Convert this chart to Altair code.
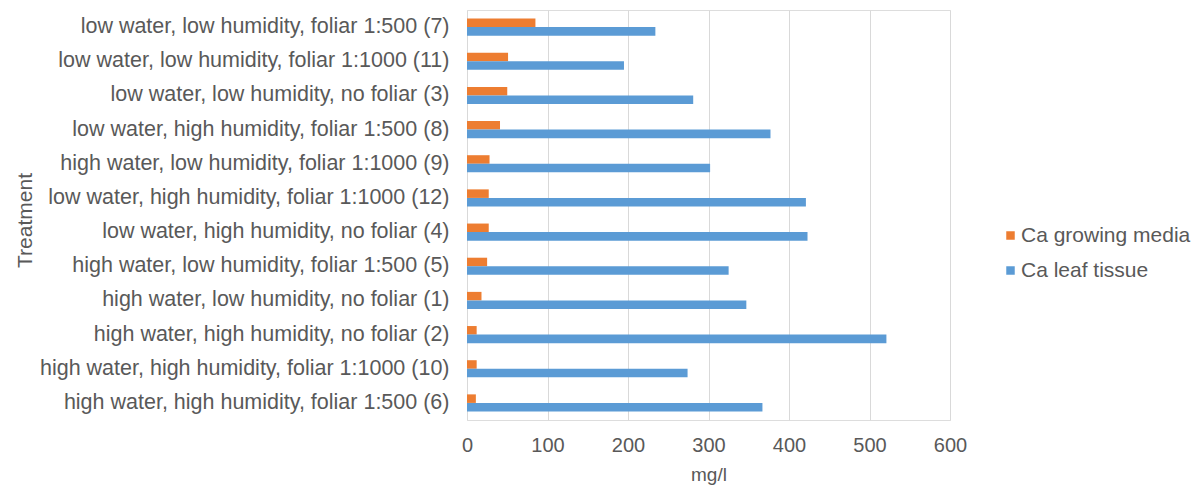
import altair as alt
import pandas as pd

# Treatments, listed top to bottom as they appear on the chart
treatments = [
    "low water, low humidity, foliar 1:500 (7)",
    "low water, low humidity, foliar 1:1000 (11)",
    "low water, low humidity, no foliar (3)",
    "low water, high humidity,  foliar 1:500 (8)",
    "high water, low humidity, foliar 1:1000 (9)",
    "low water, high humidity, foliar 1:1000 (12)",
    "low water, high humidity, no foliar (4)",
    "high water, low humidity, foliar 1:500 (5)",
    "high water, low humidity, no foliar (1)",
    "high water, high humidity, no foliar (2)",
    "high water, high humidity, foliar 1:1000 (10)",
    "high water, high humidity, foliar 1:500 (6)",
]

# Calcium concentrations (mg/l)
ca_growing_media = [85, 51, 50, 41, 28, 27, 27, 25, 18, 12, 12, 11]
ca_leaf_tissue = [234, 195, 281, 377, 302, 421, 423, 325, 347, 521, 274, 367]

series_names = ["Ca growing media", "Ca leaf tissue"]
series_colors = ["#ED7D31", "#5B9BD5"]

rows = []
for t, g, l in zip(treatments, ca_growing_media, ca_leaf_tissue):
    rows.append({"Treatment": t, "Series": series_names[0], "Value": g})
    rows.append({"Treatment": t, "Series": series_names[1], "Value": l})
df = pd.DataFrame(rows)

FONT = "Liberation Sans"
GREY = "#595959"

chart = (
    alt.Chart(df)
    .mark_bar()
    .encode(
        x=alt.X(
            "Value:Q",
            title="mg/l",
            scale=alt.Scale(domain=[0, 600], nice=False),
            axis=alt.Axis(
                values=[0, 100, 200, 300, 400, 500, 600],
                grid=True,
                gridColor="#d9d9d9",
                gridWidth=1,
                domain=False,
                ticks=False,
                labelFlush=False,
                labelFont=FONT,
                labelFontSize=20,
                labelColor=GREY,
                labelPadding=15,
                titleFont=FONT,
                titleFontSize=19,
                titleFontWeight="normal",
                titleColor=GREY,
                titlePadding=10,
            ),
        ),
        y=alt.Y(
            "Treatment:N",
            sort=treatments,
            title="Treatment",
            scale=alt.Scale(paddingInner=0.5, paddingOuter=0.25),
            axis=alt.Axis(
                domain=False,
                ticks=False,
                grid=False,
                labelFont=FONT,
                labelFontSize=21.5,
                labelColor=GREY,
                labelPadding=18,
                labelLimit=600,
                titleFont=FONT,
                titleFontSize=21,
                titleFontWeight="normal",
                titleColor=GREY,
                titleX=-442,
                titleY=210,
                titleAngle=-90,
                titleAlign="center",
                titleBaseline="middle",
            ),
        ),
        yOffset=alt.YOffset("Series:N", sort=series_names),
        color=alt.Color(
            "Series:N",
            sort=series_names,
            scale=alt.Scale(domain=series_names, range=series_colors),
            legend=alt.Legend(
                title=None,
                orient="none",
                legendX=533,
                legendY=215,
                symbolType="square",
                symbolSize=72,
                symbolStrokeWidth=0,
                labelFont=FONT,
                labelFontSize=21,
                labelColor=GREY,
                labelOffset=0,
                labelLimit=400,
                rowPadding=13,
            ),
        ),
    )
    .properties(
        width=483,
        height=410,
        autosize=alt.AutoSizeParams(type="none"),
        padding={"left": 467, "top": 10, "right": 248, "bottom": 70},
    )
    .configure_view(stroke=None)
    .configure(background="white")
)

chart.save("out.html", embed_options={"renderer": "svg", "actions": False})
